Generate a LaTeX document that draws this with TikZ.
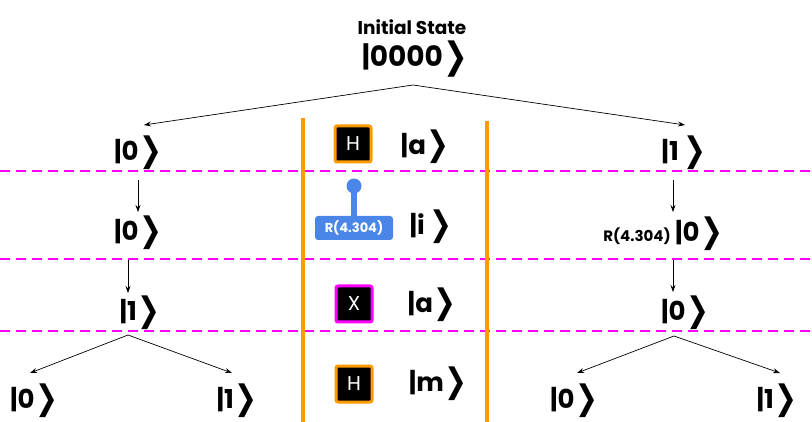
\documentclass[tikz,border=0pt]{standalone}
\usepackage{fontspec}
\usepackage{graphicx}
\setmainfont{Poppins}
\newfontfamily\chevfont{DejaVu Sans}
\usetikzlibrary{arrows.meta}
\newcommand\myket[1]{|#1\kern0.02em\raisebox{-0.06em}{\chevfont\scalebox{1.05}[1.3]{❯}}}
\definecolor{gorange}{RGB}{255,153,0}
\definecolor{gmag}{RGB}{255,0,255}
\definecolor{gblue}{RGB}{74,134,232}
\tikzset{
  ket/.style={font=\bfseries\fontsize{26}{26}\selectfont, inner sep=0pt},
  bigket/.style={font=\bfseries\fontsize{28}{28}\selectfont, inner sep=0pt},
  arr/.style={-{Stealth[length=7pt,width=5pt]}, line width=0.7pt},
  sep/.style={gmag, line width=1.6pt, dash pattern=on 10pt off 6pt},
  wall/.style={gorange, line width=3.5pt},
  gatebox/.style={fill=black, line width=3pt, rounded corners=2pt, minimum size=36pt, inner sep=0pt, text=white, font=\fontsize{20}{20}\selectfont},
}
\begin{document}
\begin{tikzpicture}[x=1pt,y=-1pt]
\useasboundingbox (0,0) rectangle (812,422);
% separators
\draw[sep] (0,171) -- (812,171);
\draw[sep] (0,259) -- (812,259);
\draw[sep] (0,331) -- (812,331);
\draw[wall] (303,118) -- (303,422);
\draw[wall] (487,121) -- (487,422);
% root
\node[font=\bfseries\fontsize{18.5}{18.5}\selectfont, inner sep=0pt] (init) at (412,27) {Initial State};
\node[bigket] (root) at (415,59) {\myket{0000}};
\coordinate (apex) at (413,85);
% left column
\node[ket] (l1) at (138,153) {\myket{0}};
\node[ket] (l2) at (138,233) {\myket{0}};
\node[ket] (l3) at (140,313) {\myket{1}};
\node[ket] (l4) at (34,401) {\myket{0}};
\node[ket] (l5) at (237,401) {\myket{1}};
\coordinate (lapex) at (128,335);
% right column
\node[ket] (r1) at (684,153) {\myket{1\,}};
\node[font=\bfseries\fontsize{15}{15}\selectfont, inner sep=0pt] (rlab) at (637,236) {R(4.304)};
\node[ket] (r2) at (699,234) {\myket{0}};
\node[ket] (r3) at (685,313) {\myket{0}};
\node[ket] (r4) at (574,401) {\myket{0}};
\node[ket] (r5) at (777,401) {\myket{1}};
\coordinate (rapex) at (674,336);
% middle gates
\node[gatebox, draw=gorange] (h1) at (353,144) {H};
\node[ket] (a1) at (425,147) {\myket{a}};
\node[fill=gblue, text=white, rounded corners=3pt, minimum width=78pt, minimum height=24pt, inner sep=0pt, font=\bfseries\fontsize{13}{13}\selectfont] (rg) at (354,228) {R(4.304)};
\node[circle, fill=gblue, minimum size=15pt, inner sep=0pt] (ctl) at (354,186) {};
\draw[gblue, line width=6pt] (ctl.center) -- (rg.north);
\node[ket] (i1) at (431,227) {\myket{i\,}};
\node[gatebox, draw=gmag] (x1) at (354,304) {X};
\node[ket] (a2) at (432,305) {\myket{a}};
\node[gatebox, draw=gorange] (h2) at (354,384) {H};
\node[ket] (m1) at (438,384) {\myket{m}};
% arrows
\draw[arr] (apex) -- ([shift={(6,-28)}]l1.center);
\draw[arr] (apex) -- ([shift={(1,-28)}]r1.center);
\draw[arr] ([shift={(0,27)}]l1.center) -- ([shift={(0,-21)}]l2.center);
\draw[arr] ([shift={(-10,27)}]l2.center) -- ([shift={(-12,-20)}]l3.center);
\draw[arr] (lapex) -- ([shift={(-4,-28)}]l4.center);
\draw[arr] (lapex) -- ([shift={(-5,-28)}]l5.center);
\draw[arr] ([shift={(-11,27)}]r1.center) -- ([shift={(-26,-22)}]r2.center);
\draw[arr] ([shift={(-26,26)}]r2.center) -- ([shift={(-12,-21)}]r3.center);
\draw[arr] (rapex) -- ([shift={(3,-28)}]r4.center);
\draw[arr] (rapex) -- ([shift={(3,-28)}]r5.center);
\end{tikzpicture}
\end{document}
